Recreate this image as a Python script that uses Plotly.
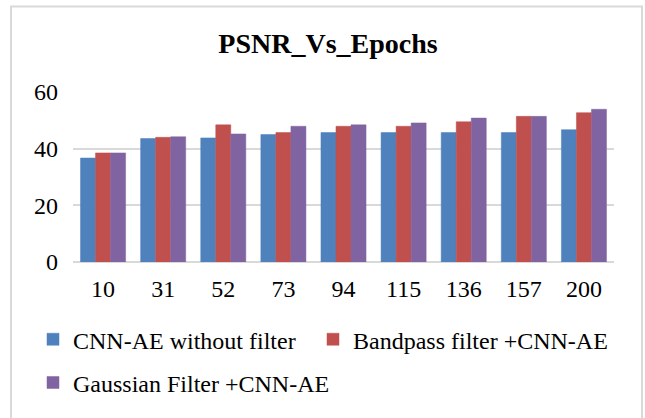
import plotly.graph_objects as go

epochs = ["10", "31", "52", "73", "94", "115", "136", "157", "200"]
cnn_ae = [36.7, 43.6, 43.8, 45.0, 45.7, 45.7, 45.7, 45.7, 46.7]
bandpass = [38.5, 44.0, 48.4, 45.7, 47.9, 47.9, 49.5, 51.4, 52.7]
gaussian = [38.5, 44.2, 45.2, 47.9, 48.4, 49.1, 50.8, 51.4, 53.9]

names = ["CNN-AE without filter", "Bandpass filter +CNN-AE", "Gaussian Filter +CNN-AE"]
colors = ["#4F81BD", "#C0504D", "#8064A2"]
FONT = "Liberation Serif"

W, H = 645, 418
L, R, T, B = 73, 31, 92, 153
pw, ph = W - L - R, H - T - B

def px_x(p):
    return (p - L) / pw

def px_y(p):
    return (H - B - p) / ph

legend_ids = ["legend", "legend2", "legend3"]
fig = go.Figure()
for vals, nm, col, lg in zip([cnn_ae, bandpass, gaussian], names, colors, legend_ids):
    fig.add_trace(go.Bar(
        x=epochs, y=vals, name=nm,
        marker=dict(color=col, line=dict(color=col, width=0.5)),
        legend=lg,
    ))

tf = dict(family=FONT, size=24, color="black")

def leg(xpx, ypx):
    return dict(orientation="h", x=px_x(xpx), xanchor="left", y=px_y(ypx), yanchor="middle",
                font=tf, itemwidth=30, bgcolor="rgba(0,0,0,0)")

fig.update_layout(
    width=W, height=H,
    margin=dict(l=L, r=R, t=T, b=B),
    paper_bgcolor="white", plot_bgcolor="white",
    font=tf,
    barmode="group", bargap=0.25, bargroupgap=0,
    title=dict(text="<b>PSNR_Vs_Epochs</b>", font=dict(family=FONT, size=28, color="black"),
               x=328 / W, xanchor="center", y=1 - 43 / H, yanchor="middle", yref="container"),
    xaxis=dict(showgrid=False, showline=False, ticks="", tickfont=tf,
               ticklabelstandoff=10),
    yaxis=dict(range=[0, 60], tickvals=[0, 20, 40, 60], showgrid=True, gridcolor="#D9D9D9",
               gridwidth=1.5, zeroline=True, zerolinecolor="#D9D9D9", zerolinewidth=2,
               showline=False, ticks="", tickfont=tf, ticklabelstandoff=14),
    legend=leg(33, 344),
    legend2=leg(313, 344),
    legend3=leg(33, 388),
    showlegend=True,
    shapes=[dict(type="rect", xref="paper", yref="paper",
                 x0=px_x(11), x1=px_x(642), y0=px_y(5), y1=px_y(430),
                 line=dict(color="#D9D9D9", width=2), fillcolor="rgba(0,0,0,0)", layer="below")],
)

fig.write_html("out.html")
